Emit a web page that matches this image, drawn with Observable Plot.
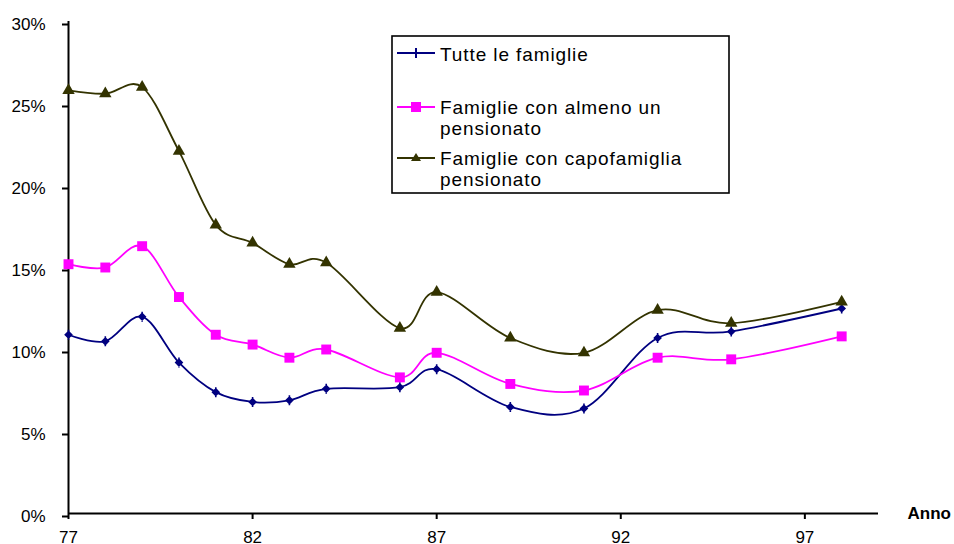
<!DOCTYPE html>
<html>
<head>
<meta charset="utf-8">
<script src="https://cdn.jsdelivr.net/npm/d3@7"></script>
<script src="https://cdn.jsdelivr.net/npm/@observablehq/plot@0.6"></script>
<style>
  body { margin: 0; background: #fff; }
  #chart { position: relative; width: 954px; height: 544px; overflow: hidden;
           font-family: "Liberation Sans", Arial, sans-serif; }
  #legend { position: absolute; left: 0; top: 0; pointer-events: none; }
</style>
</head>
<body>
<div id="chart"></div>
<script>
// Survey years (two-digit) and shares of families, in percent
const years = [77, 78, 79, 80, 81, 82, 83, 84, 86, 87, 89, 91, 93, 95, 98];
const tutteLeFamiglie = [10.9, 10.5, 12.0, 9.2, 7.4, 6.8, 6.9, 7.6, 7.7, 8.8, 6.5, 6.4, 10.7, 11.1, 12.5];
const almenoUnPensionato = [15.2, 15.0, 16.3, 13.2, 10.9, 10.3, 9.5, 10.0, 8.3, 9.8, 7.9, 7.5, 9.5, 9.4, 10.8];
const capofamigliaPensionato = [25.8, 25.6, 26.0, 22.1, 17.6, 16.5, 15.2, 15.3, 11.3, 13.5, 10.7, 9.8, 12.4, 11.6, 12.9];

const seriesNames = [
  "Tutte le famiglie",
  "Famiglie con almeno un pensionato",
  "Famiglie con capofamiglia pensionato"
];
const seriesColors = ["#000080", "#ff00ff", "#333300"];
const yTicks = [0, 5, 10, 15, 20, 25, 30];
const xTicks = [77, 82, 87, 92, 97];
const xLabel = "Anno";

const columns = [tutteLeFamiglie, almenoUnPensionato, capofamigliaPensionato];
const rows = columns.flatMap((vals, s) =>
  years.map((year, i) => ({ year, value: vals[i], series: seriesNames[s] })));
const bySeries = name => rows.filter(d => d.series === name);

// vertical tick crossed with a small diamond
const tickDiamond = {
  draw(ctx) {
    ctx.moveTo(0, -5); ctx.lineTo(0, 5);
    ctx.moveTo(0, -3.2); ctx.lineTo(3.2, 0); ctx.lineTo(0, 3.2); ctx.lineTo(-3.2, 0); ctx.closePath();
  }
};

const font = "Liberation Sans, Arial, sans-serif";

const plot = Plot.plot({
  width: 954,
  height: 544,
  marginLeft: 68,
  marginRight: 76,
  marginTop: 21,
  marginBottom: 31,
  style: { fontFamily: font, fontSize: "17px", color: "#000", background: "#fff", overflow: "visible" },
  x: { domain: [77, 99] },
  y: { domain: [0, 30] },
  color: { domain: seriesNames, range: seriesColors },
  marks: [
    Plot.axisY({ ticks: yTicks, tickFormat: d => d + "%", tickSize: 6, tickPadding: 17,
                 strokeWidth: 2, label: null, fontSize: 17, dy: 3 }),
    Plot.axisX({ ticks: xTicks, tickFormat: d => String(d), tickSize: 6, tickPadding: 11,
                 strokeWidth: 2, label: null, fontSize: 17 }),
    Plot.ruleX([77], { stroke: "#000", strokeWidth: 2 }),
    Plot.ruleY([0], { stroke: "#000", strokeWidth: 2 }),
    Plot.line(rows, { x: "year", y: "value", z: "series", stroke: "series",
                      curve: "cardinal", tension: 0, strokeWidth: 1.8 }),
    Plot.dot(bySeries(seriesNames[0]), { x: "year", y: "value", symbol: tickDiamond,
                      fill: seriesColors[0], stroke: seriesColors[0], strokeWidth: 1.6, r: 4 }),
    Plot.dot(bySeries(seriesNames[1]), { x: "year", y: "value", symbol: "square",
                      fill: seriesColors[1], r: 5.6 }),
    Plot.dot(bySeries(seriesNames[2]), { x: "year", y: "value", symbol: "triangle",
                      fill: seriesColors[2], r: 4.6 }),
    Plot.text([xLabel], { frameAnchor: "bottom-right", dx: 29, textAnchor: "start",
                          lineAnchor: "middle", fontWeight: "bold", fontSize: 17 })
  ]
});

const chart = document.getElementById("chart");
chart.appendChild(plot);

// Legend box drawn over the plot area
const ns = "http://www.w3.org/2000/svg";
const lg = document.createElementNS(ns, "svg");
lg.setAttribute("id", "legend");
lg.setAttribute("width", 954);
lg.setAttribute("height", 544);
const el = (tag, attrs, parent = lg) => {
  const n = document.createElementNS(ns, tag);
  for (const k in attrs) n.setAttribute(k, attrs[k]);
  parent.appendChild(n);
  return n;
};
el("rect", { x: 392, y: 36, width: 337, height: 157, fill: "#fff", stroke: "#000", "stroke-width": 1.6 });

const entries = [
  { lines: ["Tutte le famiglie"], y: 53, base: 60.5 },
  { lines: ["Famiglie con almeno un", "pensionato"], y: 107, base: 114 },
  { lines: ["Famiglie con capofamiglia", "pensionato"], y: 158, base: 165 }
];
entries.forEach((e, i) => {
  const c = seriesColors[i];
  el("line", { x1: 397, x2: 435, y1: e.y, y2: e.y, stroke: c, "stroke-width": 2 });
  if (i === 0) {
    el("line", { x1: 416, x2: 416, y1: e.y - 5, y2: e.y + 5, stroke: c, "stroke-width": 2 });
  } else if (i === 1) {
    el("rect", { x: 411, y: e.y - 5, width: 10, height: 10, fill: c });
  } else {
    el("path", { d: `M416,${e.y - 5}L421,${e.y + 3}L411,${e.y + 3}Z`, fill: c });
  }
  e.lines.forEach((t, j) => {
    const tx = el("text", { x: 440, y: e.base + j * 21, "font-family": font, "font-size": 19,
                            "letter-spacing": 0.9, fill: "#000" });
    tx.textContent = t;
  });
});
chart.appendChild(lg);
</script>
</body>
</html>
